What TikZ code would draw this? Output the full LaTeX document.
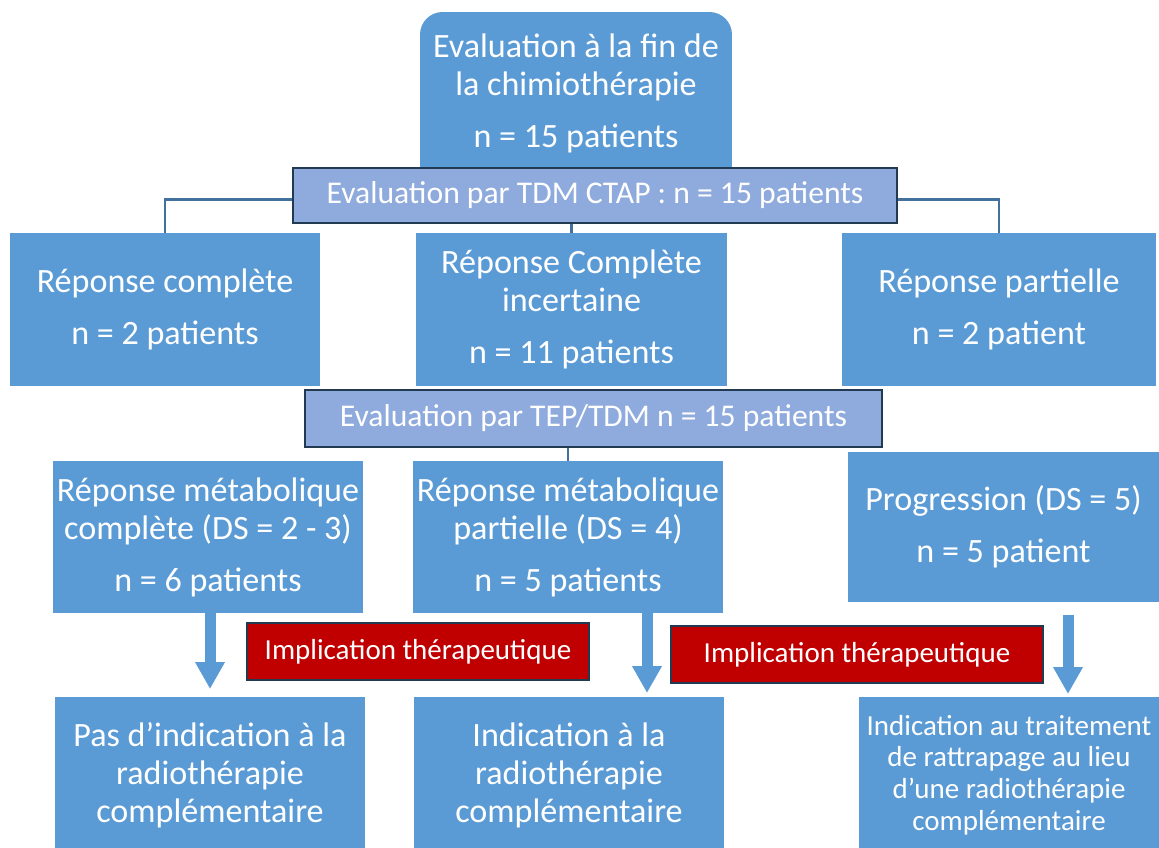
\documentclass[tikz,border=0pt]{standalone}
\usepackage{fontspec}
\setmainfont{Carlito}
\usetikzlibrary{positioning}
\usetikzlibrary{backgrounds}
\usetikzlibrary{arrows.meta}
\definecolor{boxblue}{HTML}{5B9BD5}
\definecolor{barblue}{HTML}{8FAADC}
\definecolor{bardark}{HTML}{223A52}
\definecolor{linkblue}{HTML}{41719C}
\definecolor{implred}{HTML}{C00000}
\tikzset{ %styles of the flow chart
  resbox/.style={rectangle,fill=boxblue,text=white,inner sep=0pt,align=center,
    font=\fontsize{19.4}{21.6}\selectfont},
  evalbar/.style={rectangle,fill=barblue,draw=bardark,line width=1.6pt,text=white,
    inner sep=0pt,font=\fontsize{18}{21}\selectfont},
  implic/.style={rectangle,fill=implred,draw=bardark,line width=1.6pt,text=white,
    inner sep=0pt,font=\fontsize{16.5}{19}\selectfont},
  link/.style={draw=linkblue,line width=1.5pt},
  blockarrow/.style={draw=boxblue,line width=0.22cm,-{Triangle[width=0.56cm,length=0.54cm]}}
}

\begin{document}
\begin{tikzpicture}[x=0.02cm,y=-0.02cm]
   \useasboundingbox (0,0) rectangle (1159,848);
   %
   \node (start) at (576,93.5) [resbox,rounded corners=0.45cm,minimum width=6.24cm,minimum height=3.26cm]
      {Evaluation à la fin de\\ la chimiothérapie\\[8pt] n = 15 patients};
   \begin{pgfonlayer}{background}
      % square off the bottom corners, hidden by the bar
      \fill[boxblue] ([yshift=0.6cm]start.south west) rectangle (start.south east);
   \end{pgfonlayer}
   \node (ctap) at (595,195.5) [evalbar,minimum width=12.08cm,minimum height=1.1cm]
      {Evaluation par TDM CTAP : n = 15 patients};
   %% first evaluation
   \node (rc) at (165,309.5) [resbox,minimum width=6.2cm,minimum height=3.06cm]
      {Réponse complète\\[8pt] n = 2 patients};
   \node (rci) at (571.5,309.5) [resbox,minimum width=6.22cm,minimum height=3.06cm]
      {Réponse Complète\\ incertaine\\[8pt] n = 11 patients};
   \node (rp) at (999,309.5) [resbox,minimum width=6.28cm,minimum height=3.06cm]
      {Réponse partielle\\[8pt] n = 2 patient};
   \draw[link]([yshift=-0.08cm]ctap.west) -| (rc.north);
   \draw[link]([yshift=-0.08cm]ctap.east) -| (rp.north);
   \draw[link](ctap.south -| rci.north) -- (rci.north);
   %% second evaluation
   \node (tep) at (593.5,418.5) [evalbar,minimum width=11.54cm,minimum height=1.14cm]
      {Evaluation par TEP/TDM n = 15 patients};
   \node (rmc) at (208,537) [resbox,minimum width=6.2cm,minimum height=3.04cm]
      {Réponse métabolique\\ complète (DS = 2 - 3)\\[8pt] n = 6 patients};
   \node (rmp) at (568,537) [resbox,minimum width=6.2cm,minimum height=3.04cm]
      {Réponse métabolique\\ partielle (DS = 4)\\[8pt] n = 5 patients};
   \node (prog) at (1003.5,527) [resbox,minimum width=6.22cm,minimum height=3cm]
      {Progression (DS = 5)\\[8pt] n = 5 patient};
   \draw[link](tep.south -| rmp.north) -- (rmp.north);
   %% therapeutic implication
   \node (impl1) at (418,651.5) [implic,minimum width=6.84cm,minimum height=1.14cm]
      {Implication thérapeutique};
   \node (impl2) at (857,654.5) [implic,minimum width=7.44cm,minimum height=1.14cm]
      {Implication thérapeutique};
   %
   \node (nori) at (210,775) [resbox,minimum width=6.2cm,minimum height=3.12cm]
      {Pas d’indication à la\\ radiothérapie\\ complémentaire};
   \node (ri) at (569,775) [resbox,minimum width=6.2cm,minimum height=3.12cm]
      {Indication à la\\ radiothérapie\\ complémentaire};
   \node (ratt) at (1009,775) [resbox,minimum width=6cm,minimum height=3.12cm,
      font=\fontsize{16.5}{18.1}\selectfont]
      {Indication au traitement\\ de rattrapage au lieu\\ d’une radiothérapie\\ complémentaire};
   %
   \coordinate (e1) at (210,689);
   \coordinate (e2) at (647,693);
   \coordinate (e3) at (1068,694);
   \draw[blockarrow](e1 |- rmc.south) -- (e1);
   \draw[blockarrow](e2 |- rmp.south) -- (e2);
   \draw[blockarrow]([yshift=-0.26cm]e3 |- prog.south) -- (e3);
\end{tikzpicture}
\end{document}
